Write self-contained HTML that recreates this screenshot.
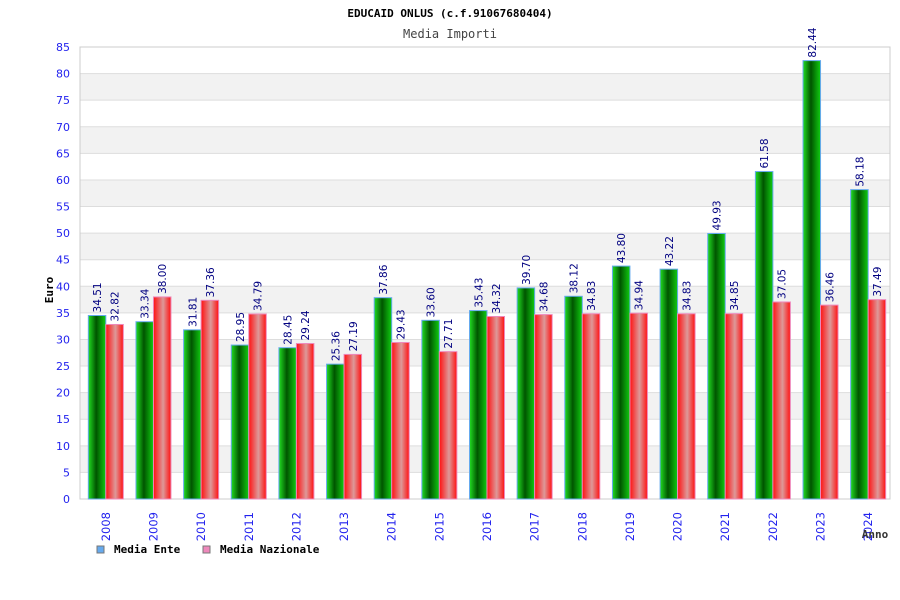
<!DOCTYPE html>
<html><head><meta charset="utf-8"><style>
body{margin:0;background:#fff;width:900px;height:600px;overflow:hidden}
svg{display:block;font-family:"DejaVu Sans","Liberation Sans",sans-serif}
</style></head><body>
<svg id="chart" width="900" height="600">
<defs>
<linearGradient id="gG" x1="0" x2="1"><stop offset="0" stop-color="#22dd22"/><stop offset="0.45" stop-color="#005500"/><stop offset="1" stop-color="#11cc11"/></linearGradient>
<linearGradient id="gR" x1="0" x2="1"><stop offset="0" stop-color="#ff1111"/><stop offset="0.55" stop-color="#dd9999"/><stop offset="1" stop-color="#ff1111"/></linearGradient>
</defs>
<text x="450" y="17" text-anchor="middle" font-family="DejaVu Sans Mono,Liberation Mono,monospace" font-weight="bold" font-size="11">EDUCAID ONLUS (c.f.91067680404)</text>
<text x="450" y="38" text-anchor="middle" font-family="DejaVu Sans Mono,Liberation Mono,monospace" font-size="12" fill="#444">Media Importi</text>
<g id="plot"></g>
<text transform="translate(53,290) rotate(-90)" text-anchor="middle" font-family="DejaVu Sans Mono,monospace" font-weight="bold" font-size="11">Euro</text>
<text x="875" y="538" text-anchor="middle" font-family="DejaVu Sans Mono,monospace" font-weight="bold" font-size="11" fill="#333">Anno</text>
<g font-family="DejaVu Sans Mono,monospace" font-weight="bold" font-size="11">
<g><rect x="97" y="546" width="7" height="7" fill="#66aaee" stroke="#777"/><text x="114" y="553">Media Ente</text></g>
<g><rect x="203" y="546" width="7" height="7" fill="#ee88bb" stroke="#777"/><text x="220" y="553">Media Nazionale</text></g>
</g>
</svg>
<script>
const categories=["2008","2009","2010","2011","2012","2013","2014","2015","2016","2017","2018","2019","2020","2021","2022","2023","2024"];
const mediaEnte=[34.51,33.34,31.81,28.95,28.45,25.36,37.86,33.60,35.43,39.70,38.12,43.80,43.22,49.93,61.58,82.44,58.18];
const mediaNazionale=[32.82,38.00,37.36,34.79,29.24,27.19,29.43,27.71,34.32,34.68,34.83,34.94,34.83,34.85,37.05,36.46,37.49];
const yTicks=[0,5,10,15,20,25,30,35,40,45,50,55,60,65,70,75,80,85];
const L=80,R=890,T=47,B=499,YMAX=85;
const ns="http://www.w3.org/2000/svg";
const g=document.getElementById('plot');
const y=v=>B-(v/YMAX)*(B-T);
const gw=(R-L)/categories.length;
const xc=i=>L+gw*(i+0.5);
function mk(t,a,p){const e=document.createElementNS(ns,t);for(const k in a)e.setAttribute(k,a[k]);(p||g).appendChild(e);return e;}
for(let i=0;i<yTicks.length-1;i++){
  const r=mk('rect',{x:L,y:y(yTicks[i+1]),width:R-L,height:y(yTicks[i])-y(yTicks[i+1]),fill:i%2?'#f2f2f2':'#ffffff'});
  
  
}
yTicks.forEach(v=>{
  const l=mk('line',{x1:L,x2:R,y1:y(v),y2:y(v),stroke:'#dddddd'});
  
  
  const t=mk('text',{x:L-10,y:y(v)+4,'text-anchor':'end','font-size':11,fill:'#2222ee'});
  t.textContent=v;
  
  
});
const fr=mk('rect',{x:L,y:T,width:R-L,height:B-T,fill:'none',stroke:'#cccccc'});


const bw=17.5;
categories.forEach((c,i)=>{
  const cx=xc(i)+2;
  [[mediaEnte[i],cx-bw,'url(#gG)','#66aaee','bar-media-ente-'+c],[mediaNazionale[i],cx,'url(#gR)','#ee88bb','bar-media-nazionale-'+c]].forEach(s=>{
    const b=mk('rect',{x:s[1],y:y(s[0]),width:bw,height:B-y(s[0]),fill:s[2],stroke:s[3],'stroke-width':1});
    
    
    const lx=s[1]+bw/2+4, ly=y(s[0])-3;
    const t=mk('text',{transform:`translate(${lx},${ly}) rotate(-90)`,'font-size':10.5,fill:'#000080'});
    t.textContent=s[0].toFixed(2);
    
    
  });
  const t=mk('text',{transform:`translate(${cx+4},${512}) rotate(-90)`,'text-anchor':'end','font-size':11.5,fill:'#2222ee'});
  t.textContent=c;
  
  
});
</script>
</body></html>
